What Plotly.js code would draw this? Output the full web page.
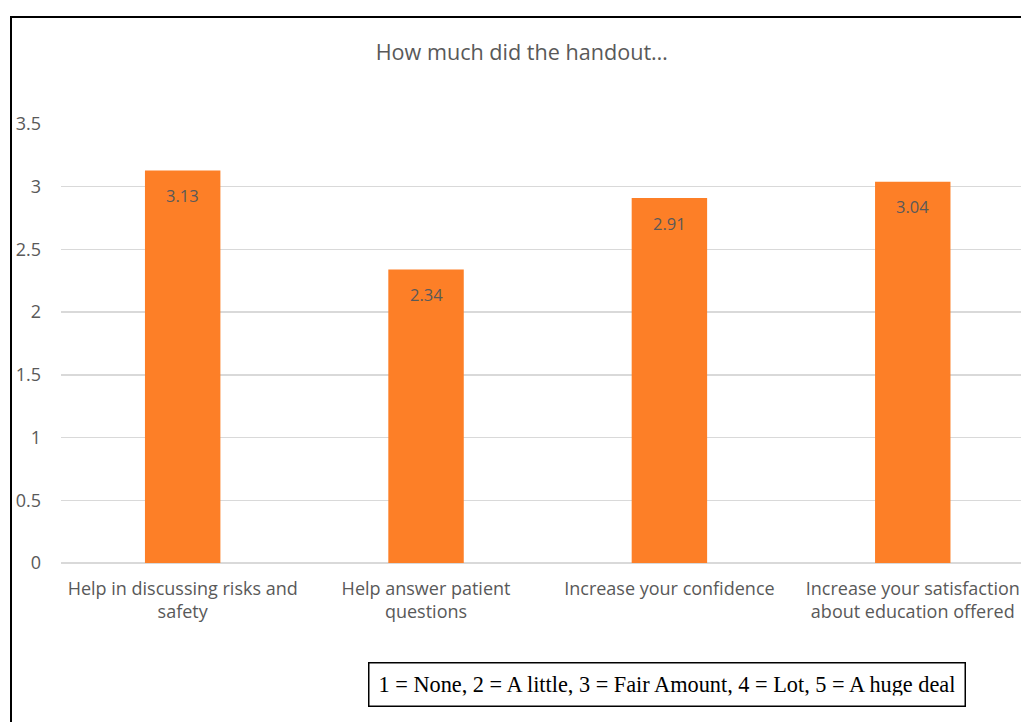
<!DOCTYPE html>
<html><head><meta charset="utf-8">
<script src="https://cdn.plot.ly/plotly-3.0.1.min.js"></script>
<style>
html,body{margin:0;padding:0;background:#fff;overflow:hidden;width:1021px;height:722px;}
#frame{position:absolute;left:10px;top:16px;width:1011px;height:706px;border-left:2px solid #000;border-top:2px solid #000;}
#chart{width:1011px;height:706px;}
</style></head>
<body>
<div id="frame"><div id="chart"></div></div>
<script>
const categories = ["Help in discussing risks and<br>safety", "Help answer patient<br>questions", "Increase your confidence", "Increase your satisfaction<br>about education offered"];
const values = [3.13, 2.34, 2.91, 3.04];
const valueLabels = ["3.13", "2.34", "2.91", "3.04"];
const yTicks = [0, 0.5, 1, 1.5, 2, 2.5, 3, 3.5];
const yTickLabels = ["0", "0.5", "1", "1.5", "2", "2.5", "3", "3.5"];
const titleText = "How much did the handout…";
const noteText = "1 = None, 2 = A little, 3 = Fair Amount, 4 = Lot, 5 = A huge deal";

const gray = '#595959';
const font = '"Open Sans", sans-serif';

const trace = {
  type: 'bar',
  x: [0,1,2,3],
  y: values,
  width: 0.31,
  marker: {color: '#fd7f27', line: {width: 0}},
  hoverinfo: 'none'
};

const annotations = values.map((v, i) => ({
  x: i, y: v, xref: 'x', yref: 'y', text: valueLabels[i], showarrow: false,
  yshift: -25, yanchor: 'middle', font: {family: font, size: 16.5, color: gray}
}));
annotations.push({
  xref: 'paper', yref: 'paper', x: 0.630, y: -0.277, xanchor: 'center', yanchor: 'middle',
  text: noteText, showarrow: false, width: 575, height: 22, borderpad: 10,
  bordercolor: '#000', borderwidth: 1.5, bgcolor: '#fff',
  font: {family: '"Liberation Serif", serif', size: 22.3, color: '#000'}
});

const layout = {
  width: 1011, height: 706,
  margin: {l: 49, r: 0, t: 106, b: 161},
  paper_bgcolor: '#fff', plot_bgcolor: '#fff',
  showlegend: false,
  title: {text: titleText, x: 0.479, xref: 'paper', xanchor: 'center', y: 1 - (52-18)/706, yanchor: 'middle',
          font: {family: font, size: 21.6, color: gray}},
  xaxis: {
    range: [-0.5, 3.453], tickvals: [0,1,2,3], ticktext: categories,
    showgrid: false, zeroline: false, showline: false, ticks: '',
    ticklabelstandoff: 13,
    tickfont: {family: font, size: 18, color: gray}, fixedrange: true
  },
  yaxis: {
    range: [0, 3.5], tickvals: yTicks, ticktext: yTickLabels,
    showgrid: true, gridcolor: '#d9d9d9', gridwidth: 1.5,
    zeroline: true, zerolinecolor: '#d9d9d9', zerolinewidth: 2,
    showline: false, ticks: '', ticklabelstandoff: 19,
    tickfont: {family: font, size: 18, color: gray}, fixedrange: true
  },
  annotations: annotations
};

Plotly.newPlot('chart', [trace], layout, {displayModeBar: false, staticPlot: true});
</script>
</body></html>
